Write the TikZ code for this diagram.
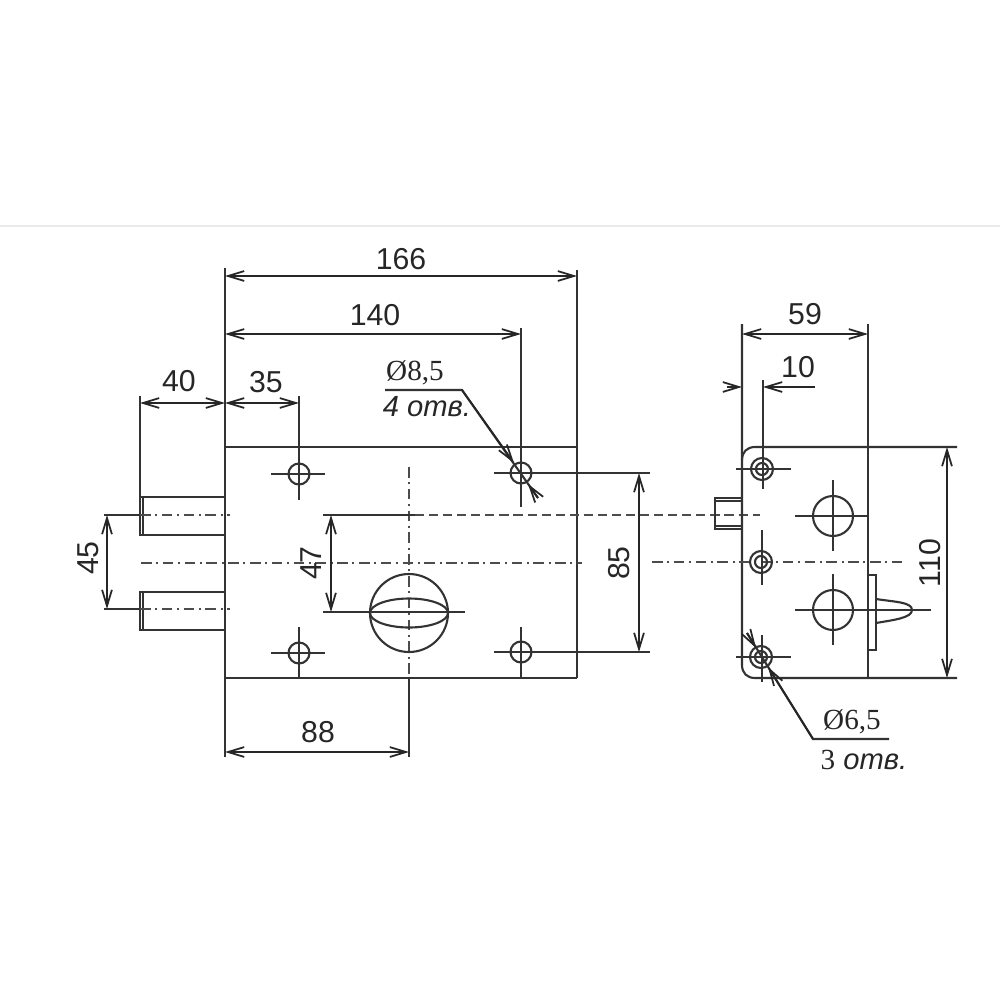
\documentclass[tikz,border=0pt]{standalone}
\usepackage{fontspec}
\setmainfont{Liberation Sans}
\newfontfamily\serifrm{Liberation Serif}
\usetikzlibrary{arrows.meta}
\tikzset{
  line/.style={line width=0.6pt,draw=black!80},
  dim/.style={line width=0.5pt,draw=black!85,{Straight Barb[length=4.6pt,width=2.8pt]}-{Straight Barb[length=4.6pt,width=2.8pt]}},
  tip/.style={line width=0.5pt,draw=black!85,-{Straight Barb[length=4.6pt,width=2.8pt]}},
  axis/.style={line width=0.55pt,draw=black!70,dash pattern=on 3pt off 1.3pt on .6pt off 1.3pt},
  hidden/.style={line width=0.55pt,draw=black!70,dash pattern=on 2.6pt off 1.4pt},
  size/.style={font=\fontsize{8.6}{10}\selectfont,text=black!85,inner sep=0pt},
  note/.style={font=\fontsize{8.3}{10}\selectfont,text=black!85,inner sep=0pt}
}
\begin{document}
\begin{tikzpicture}[x=0.01cm,y=-0.01cm]
   \useasboundingbox (0,0) rectangle (1000,1000);
   \draw[line width=0.3pt,draw=black!8] (0,226) -- (1000,226);
   % front view
   \draw[line] (225,268) -- (225,757);
   \draw[line] (577,270) -- (577,678);
   \draw[line] (225,447) -- (577,447);
   \draw[line] (225,678) -- (577,678);
   \draw[line] (140,396) -- (140,497);
   \draw[line] (140,497) rectangle (225,535);
   \draw[line] (143,497) -- (143,535);
   \draw[line] (140,592) rectangle (225,630);
   \draw[line] (143,592) -- (143,630);
   \draw[line] (104,515) -- (140,515);
   \draw[line] (104,609) -- (140,609);
   \draw[axis] (140,515) -- (230,515);
   \draw[axis] (140,609) -- (230,609);
   \draw[axis] (141,563) -- (582,563);
   \draw[axis] (409,467) -- (409,678);
   \draw[line] (409,678) -- (409,757);
   % holes of the front view
   \foreach \hx/\hy in {299/474,521/473,299/653,521/652}{
     \draw[line] (\hx,\hy) circle(10.5);
   }
   \draw[line] (271,474) -- (325,474);
   \draw[line] (271,653) -- (325,653);
   \draw[line] (299,396) -- (299,500);
   \draw[line] (299,627) -- (299,678);
   \draw[line] (494,473) -- (650,473);
   \draw[line] (494,652) -- (650,652);
   \draw[line] (521,328) -- (521,507);
   \draw[line] (521,627) -- (521,678);
   % knob
   \draw[line] (409,613) circle(39);
   \draw[line] (409,613) ellipse(39 and 14.5);
   \draw[line] (323,612) -- (465,612);
   \draw[line] (323,515) -- (415,515);
   \draw[hidden] (415,515) -- (760,515);
   % side view
   \draw[line] (742,324) -- (742,665) .. controls (742,673) and (747,678) .. (755,678) -- (957,678);
   \draw[line] (868,324) -- (868,678);
   \draw[line] (742,460) .. controls (742,452) and (747,447) .. (755,447) -- (957,447);
   \draw[line] (763,380) -- (763,447);
   \draw[line] (715,498) rectangle (742,529);
   \draw[line] (715,501) -- (742,501);
   \draw[line] (715,526) -- (742,526);
   \draw[axis] (652,562) -- (905,562);
   \foreach \hx/\hy in {762/469,761/562,761/657}{
     \draw[line] (\hx,\hy) circle(11);
     \draw[line] (\hx,\hy) circle(6);
   }
   \draw[line] (736,469) -- (791,469);
   \draw[line] (763,447) -- (763,489);
   \draw[line] (762,530) -- (762,585);
   \draw[line] (736,657) -- (791,657);
   \draw[line] (762,635) -- (762,682);
   \draw[line] (833,516) circle(20);
   \draw[line] (795,516) -- (868,516);
   \draw[line] (833,480) -- (833,551);
   \draw[line] (833,610) circle(20);
   \draw[line] (795,610) -- (931,610);
   \draw[line] (833,574) -- (833,645);
   % handle
   \draw[line] (868,575) rectangle (876,650);
   \draw[line] (876,599) .. controls (895,602) and (912,602) .. (912,610) .. controls (912,618) and (893,620) .. (876,623);
   % dimensions
   \draw[dim] (225,276) -- (577,276);
   \draw[dim] (225,334) -- (521,334);
   \draw[dim] (140,403) -- (225,403);
   \draw[dim] (225,403) -- (299,403);
   \draw[dim] (107,515) -- (107,609);
   \draw[dim] (331,515) -- (331,612);
   \draw[dim] (639,473) -- (639,652);
   \draw[dim] (225,752) -- (409,752);
   \draw[dim] (742,334) -- (868,334);
   \draw[dim] (947,447) -- (947,678);
   \draw[tip] (727,387) -- (742,387);
   \draw[tip] (815,387) -- (763,387);
   % leaders
   \draw[line] (385,390) -- (462,390) -- (538,498);
   \draw[tip] (462,390) -- (514,463);
   \draw[tip] (538,498) -- (528,484);
   \draw[line] (889,739) -- (813,739) -- (747,633);
   \draw[tip] (813,739) -- (768,667);
   \draw[tip] (747,633) -- (756,648);
   % labels
   \node[size] (w166) at (401,259) {166};
   \node[size] (w140) at (375,315) {140};
   \node[size] (w40) at (179,381) {40};
   \node[size] (w35) at (266,382) {35};
   \node[size] (w88) at (318,732) {88};
   \node[size] (w59) at (805,314) {59};
   \node[size] (w10) at (798,367) {10};
   \node[size,rotate=90] (h45) at (88,558) {45};
   \node[size,rotate=90] (h47) at (311,563) {47};
   \node[size,rotate=90] (h85) at (619,563) {85};
   \node[size,rotate=90] (h110) at (930,563) {110};
   \node[note] (d85) at (415,373) {\serifrm Ø8,5};
   \node[note] (n4) at (427,407) {\itshape 4 отв.};
   \node[note] (d65) at (852,722) {\serifrm Ø6,5};
   \node[note] (n3) at (864,760) {{\serifrm 3} \itshape отв.};
\end{tikzpicture}
\end{document}
